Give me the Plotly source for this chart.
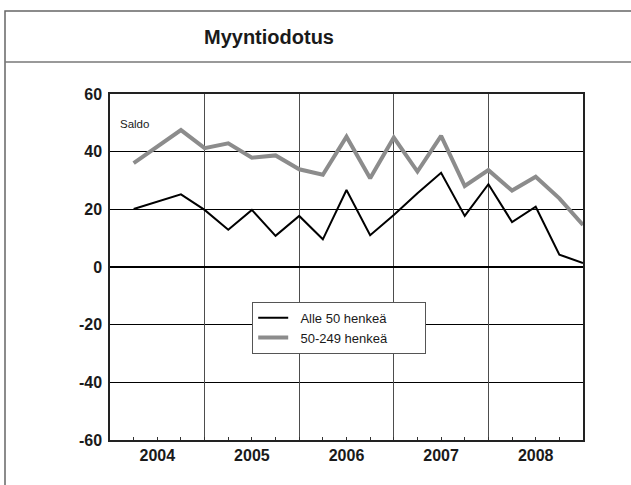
import plotly.graph_objects as go

# ---- data ----
periods = ["2004Q1", "2004Q3", "2004Q4",
           "2005Q1", "2005Q2", "2005Q3", "2005Q4",
           "2006Q1", "2006Q2", "2006Q3", "2006Q4",
           "2007Q1", "2007Q2", "2007Q3", "2007Q4",
           "2008Q1", "2008Q2", "2008Q3", "2008Q4"]
alle50 = [20.1, 25.2, 19.8, 12.9, 19.8, 10.8, 17.7, 9.6, 26.7, 11.0, 18.0,
          25.6, 32.7, 17.7, 28.7, 15.6, 20.9, 4.3, 1.4]
h50_249 = [36.0, 47.5, 41.2, 42.9, 37.9, 38.7, 33.9, 32.0, 45.2, 30.8, 44.9,
           33.1, 45.5, 28.1, 33.6, 26.5, 31.3, 23.8, 14.6]
years = [2004, 2005, 2006, 2007, 2008]
y_ticks = [-60, -40, -20, 0, 20, 40, 60]
series_names = ["Alle 50 henkeä", "50-249 henkeä"]
title_text = "Myyntiodotus"
unit_text = "Saldo"

# convert period labels to positions on a continuous year axis (end of quarter)
def period_pos(p):
    y, q = p.split("Q")
    return int(y) + int(q) / 4.0

x_vals = [period_pos(p) for p in periods]

W, H = 631, 485
L, R, T, B = 110, 583, 94, 440
pw, ph = R - L, B - T

def px(x):
    return (x - L) / pw

def py(y):
    return (B - y) / ph

FONT = "Liberation Sans, Arial, sans-serif"
NB = "\u00a0"

fig = go.Figure()
fig.add_trace(go.Scatter(x=x_vals, y=alle50, mode="lines",
                         name=NB * 2 + series_names[0] + NB * 9,
                         line=dict(color="#000000", width=2), xaxis="x", yaxis="y"))
fig.add_trace(go.Scatter(x=x_vals, y=h50_249, mode="lines",
                         name=NB * 2 + series_names[1] + NB * 9,
                         line=dict(color="#8c8c8c", width=4), xaxis="x2", yaxis="y"))

xr = [years[0], years[-1] + 1]
fig.update_layout(
    width=W, height=H,
    margin=dict(l=L, r=W - R, t=T, b=H - B, pad=0),
    paper_bgcolor="white", plot_bgcolor="white",
    font=dict(family=FONT, color="#1a1a1a"),
    showlegend=True,
    legend=dict(x=px(252), y=py(301.5), xanchor="left", yanchor="top",
                bgcolor="white", bordercolor="#555555", borderwidth=1.2,
                font=dict(family=FONT, size=13, color="#1a1a1a"),
                traceorder="normal"),
    xaxis=dict(range=xr, tickmode="array", tickvals=[y + 0.5 for y in years],
               ticktext=[str(y) for y in years], ticks="", showgrid=False,
               zeroline=False, showline=True, mirror=True, linecolor="#222222",
               linewidth=1.5, tickfont=dict(family=FONT, size=16, weight="bold", color="#1a1a1a"),
               ticklabelstandoff=0),
    xaxis2=dict(range=xr, overlaying="x", anchor="y", side="bottom",
                tickmode="array", tickvals=years[1:], showticklabels=False,
                ticks="", showgrid=True, gridcolor="#4d4d4d", gridwidth=1.3,
                zeroline=False, showline=False,
                minor=dict(tickvals=[years[0] + i / 4 for i in range(1, 20)],
                           ticks="inside", ticklen=3, tickcolor="#333333",
                           tickwidth=1, showgrid=False)),
    yaxis=dict(range=[-60, 60], tickmode="array", tickvals=y_ticks,
               ticktext=[str(v) for v in y_ticks], ticks="",
               showgrid=True, gridcolor="#000000", gridwidth=1,
               zeroline=True, zerolinecolor="#000000", zerolinewidth=2,
               showline=True, mirror=True, linecolor="#222222", linewidth=1.5,
               tickfont=dict(family=FONT, size=16, weight="bold", color="#1a1a1a"),
               ticklabelstandoff=3),
    shapes=[
        dict(type="rect", xref="paper", yref="paper",
             x0=px(5), x1=px(W + 20), y0=py(H + 20), y1=py(11),
             line=dict(color="#666666", width=1.5), fillcolor="rgba(0,0,0,0)", layer="below"),
        dict(type="line", xref="paper", yref="paper",
             x0=px(5), x1=px(W + 20), y0=py(62), y1=py(62),
             line=dict(color="#777777", width=1.5)),
    ],
    annotations=[
        dict(text=title_text, xref="paper", yref="paper", x=px(269), y=py(37),
             xanchor="center", yanchor="middle", showarrow=False,
             font=dict(family=FONT, size=20, weight="bold", color="#1a1a1a")),
        dict(text=unit_text, xref="paper", yref="paper", x=px(118), y=py(124),
             xanchor="left", yanchor="middle", showarrow=False,
             font=dict(family=FONT, size=11.5, color="#1a1a1a")),
    ],
)

fig.write_html("out.html", config={"displayModeBar": False},
               post_script="document.body.style.margin='0';document.body.style.overflow='hidden';")
